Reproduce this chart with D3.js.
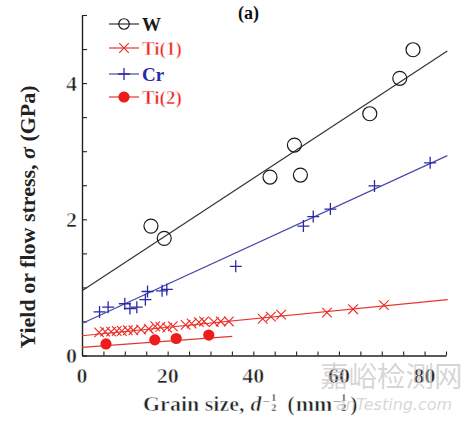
<!DOCTYPE html>
<html>
<head>
<meta charset="utf-8">
<script src="https://cdn.jsdelivr.net/npm/d3@7"></script>
<style>
  body { margin: 0; background: #fff; }
  svg { display: block; }
  text { white-space: pre; }
</style>
</head>
<body>
<div id="chart"></div>
<script>
// data
var wX = [16.1, 19.2, 43.9, 49.6, 51.0, 67.2, 74.2, 77.3];
var wY = [1.90, 1.72, 2.62, 3.09, 2.65, 3.55, 4.07, 4.49];

var ti1X = [4.0, 5.4, 6.8, 8.1, 9.3, 10.7, 12.0, 13.8, 15.6, 17.1, 18.3, 19.9, 21.2, 24.2, 25.6, 27.3, 28.5, 30.8, 32.4, 34.3, 42.2, 44.1, 46.5, 57.2, 63.3, 70.5];
var ti1Y = [0.34, 0.35, 0.35, 0.36, 0.36, 0.37, 0.37, 0.38, 0.39, 0.43, 0.42, 0.41, 0.43, 0.45, 0.47, 0.49, 0.50, 0.49, 0.50, 0.50, 0.54, 0.57, 0.60, 0.63, 0.68, 0.74];

var crX = [4.1, 6.1, 10.0, 11.2, 12.8, 14.8, 15.3, 18.7, 19.8, 35.9, 51.7, 54.0, 58.0, 68.3, 81.3];
var crY = [0.64, 0.71, 0.76, 0.69, 0.71, 0.82, 0.94, 0.95, 0.97, 1.31, 1.90, 2.04, 2.15, 2.49, 2.83];

var ti2X = [5.6, 17.0, 22.0, 29.6];
var ti2Y = [0.17, 0.23, 0.25, 0.30];

// linear fits (intercept, slope, last x)
var seriesNames = ["W", "Ti(1)", "Cr", "Ti(2)"];
var fitIntercept = [0.95, 0.29, 0.47, 0.12];
var fitSlope = [0.0413, 0.0062, 0.0289, 0.0046];
var fitEnd = [85.3, 85.4, 85.3, 35.1];

var xTicks = d3.range(0, 86, 5);
var xLabels = [0, 20, 40, 60, 80];
var yTicks = d3.range(0, 5.01, 0.5);
var yLabels = [0, 2, 4];

var width = 471, height = 423;
var serif = "'Liberation Serif', 'Times New Roman', serif";

var colors = ["#1a1a1a", "#ee2a24", "#2a2aa8", "#ee1c1c"];
var lineColors = ["#333333", "#e8352e", "#4848a8", "#d83a32"];

// only the bold serif face renders here, so "regular" text is the bold
// face eroded with a thin white outline
function thin(sel, w) {
  sel.attr("font-weight", "bold")
     .attr("stroke", "#fff")
     .attr("stroke-width", w)
     .attr("stroke-linejoin", "round");
  return sel;
}

var svg = d3.select("#chart")
    .append("svg")
    .attr("width", width)
    .attr("height", height);

var x = d3.scaleLinear().domain([0, 85]).range([82, 446]);
var y = d3.scaleLinear().domain([0, 5]).range([355.5, 15]);

//axes
var xAxis = d3.axisBottom(x).tickValues(xTicks).tickSizeInner(-4).tickSizeOuter(0).tickFormat("");
var yAxis = d3.axisLeft(y).tickValues(yTicks).tickSizeInner(-5).tickSizeOuter(0).tickFormat("");

var gx = svg.append("g").attr("transform", "translate(0," + y(0) + ")").call(xAxis);
var gy = svg.append("g").attr("transform", "translate(" + x(0) + ",0)").call(yAxis);
gx.select(".domain").attr("stroke", "#222").attr("stroke-width", 1.4);
gy.select(".domain").attr("stroke", "#222").attr("stroke-width", 1.4);
svg.selectAll(".tick line").attr("stroke", "#222").attr("stroke-width", 1.1);

svg.append("g").selectAll("text")
    .data(xLabels).enter().append("text")
    .attr("x", d => x(d))
    .attr("y", 383)
    .attr("text-anchor", "middle")
    .attr("font-family", serif)
    .attr("font-size", 22)
    .attr("fill", "#222")
    .text(d => d)
    .call(thin, 0.6);

svg.append("g").selectAll("text")
    .data(yLabels).enter().append("text")
    .attr("x", 77)
    .attr("y", d => y(d) + 7.5)
    .attr("text-anchor", "end")
    .attr("font-family", serif)
    .attr("font-size", 22)
    .attr("fill", "#222")
    .text(d => d)
    .call(thin, 0.6);

//fit lines
var fitData = seriesNames.map(function(n, i) {
  return [[0, fitIntercept[i]], [fitEnd[i], fitIntercept[i] + fitSlope[i] * fitEnd[i]]];
});
var line = d3.line().x(d => x(d[0])).y(d => y(d[1]));
svg.append("g").selectAll("path")
    .data(fitData).enter().append("path")
    .attr("d", line)
    .attr("fill", "none")
    .attr("stroke", (d, i) => lineColors[i])
    .attr("stroke-width", 1.2);

//markers
function drawMarker(g, kind, cx, cy, scale) {
  var s = scale || 1;
  if (kind === 0) {
    g.append("circle").attr("cx", cx).attr("cy", cy).attr("r", 7 * s)
      .attr("fill", "none").attr("stroke", colors[0]).attr("stroke-width", 1.2);
  } else if (kind === 1) {
    var h = 4.8 * s;
    g.append("path")
      .attr("d", "M" + (cx - h) + "," + (cy - h) + "L" + (cx + h) + "," + (cy + h) +
                 "M" + (cx - h) + "," + (cy + h) + "L" + (cx + h) + "," + (cy - h))
      .attr("stroke", colors[1]).attr("stroke-width", 1.1).attr("fill", "none");
  } else if (kind === 2) {
    var p = 6 * s;
    g.append("path")
      .attr("d", "M" + (cx - p) + "," + cy + "L" + (cx + p) + "," + cy +
                 "M" + cx + "," + (cy - p) + "L" + cx + "," + (cy + p))
      .attr("stroke", colors[2]).attr("stroke-width", 1.3).attr("fill", "none");
  } else {
    g.append("circle").attr("cx", cx).attr("cy", cy).attr("r", 5.6 * s)
      .attr("fill", colors[3]);
  }
}

var marks = svg.append("g");
var allX = [wX, ti1X, crX, ti2X];
var allY = [wY, ti1Y, crY, ti2Y];
allX.forEach(function(xs, k) {
  xs.forEach(function(v, i) {
    drawMarker(marks, k, x(v), y(allY[k][i]));
  });
});

//legend
var legendRowY = [24, 48, 74, 97];
var legendBold = [true, false, true, false];
var legend = svg.append("g");
seriesNames.forEach(function(n, i) {
  legend.append("line")
    .attr("x1", 109).attr("x2", 139)
    .attr("y1", legendRowY[i]).attr("y2", legendRowY[i])
    .attr("stroke", lineColors[i]).attr("stroke-width", 1.2);
  drawMarker(legend, i, 124, legendRowY[i], i === 0 ? 0.75 : 1);
  var t = legend.append("text")
    .attr("x", 142).attr("y", legendRowY[i] + 6.5)
    .attr("font-family", serif)
    .attr("font-size", 19)
    .attr("font-weight", "bold")
    .attr("fill", colors[i])
    .text(n);
  if (!legendBold[i]) t.call(thin, 0.5);
});

//panel tag
svg.append("text")
    .attr("x", 238).attr("y", 19)
    .attr("font-family", serif)
    .attr("font-size", 18)
    .attr("font-weight", "bold")
    .attr("fill", "#111")
    .text("(a)");

//x axis title, built piece by piece for the exponents
var cur = 143;
function piece(txt, size, base, style, dx) {
  cur += dx || 0;
  var t = svg.append("text")
    .attr("x", cur).attr("y", base)
    .attr("font-family", serif)
    .attr("font-size", size)
    .attr("font-style", style || "normal")
    .attr("fill", "#222")
    .text(txt)
    .call(thin, size > 15 ? 0.6 : 0.3);
  cur += t.node().getComputedTextLength();
  return t;
}
function half(dx) {
  cur += dx || 0;
  var a = svg.append("text").attr("x", cur).attr("y", 401)
    .attr("font-family", serif).attr("font-size", 10).attr("fill", "#222").text("1")
    .call(thin, 0.3);
  svg.append("text").attr("x", cur).attr("y", 410.5)
    .attr("font-family", serif).attr("font-size", 10).attr("fill", "#222").text("2")
    .call(thin, 0.3);
  cur += a.node().getComputedTextLength();
}
piece("Grain size,", 22, 411);
piece("d", 22, 411, "italic", 6);
piece("\u2212", 13, 406, "normal", 1);
half(1.5);
piece("(", 22, 411, "normal", 11);
piece("mm", 22, 411, "normal", 1);
piece("\u2212", 13, 406, "normal", 0.5);
half(1);
piece(")", 22, 411, "normal", 4);

//y axis title
var yt = svg.append("text")
    .attr("transform", "translate(35,217) rotate(-90)")
    .attr("text-anchor", "middle")
    .attr("font-family", serif)
    .attr("font-size", 22)
    .attr("font-weight", "bold")
    .attr("fill", "#222");
yt.append("tspan").text("Yield or flow stress, ");
yt.append("tspan").attr("font-style", "italic").text("\u03c3");
yt.append("tspan").text(" (GPa)");

//watermark, semi transparent on top like in the source image
svg.append("text")
    .attr("x", 320).attr("y", 387)
    .attr("font-family", "'Noto Sans CJK SC', sans-serif")
    .attr("font-size", 28.5)
    .attr("fill", "#bbb")
    .attr("fill-opacity", 0.6)
    .text("嘉峪检测网");
svg.append("text")
    .attr("x", 336).attr("y", 410)
    .attr("font-family", "'DejaVu Sans', sans-serif")
    .attr("font-style", "italic")
    .attr("font-size", 16)
    .attr("fill", "#bbb")
    .attr("fill-opacity", 0.6)
    .text("anTesting.com");
</script>
</body>
</html>
